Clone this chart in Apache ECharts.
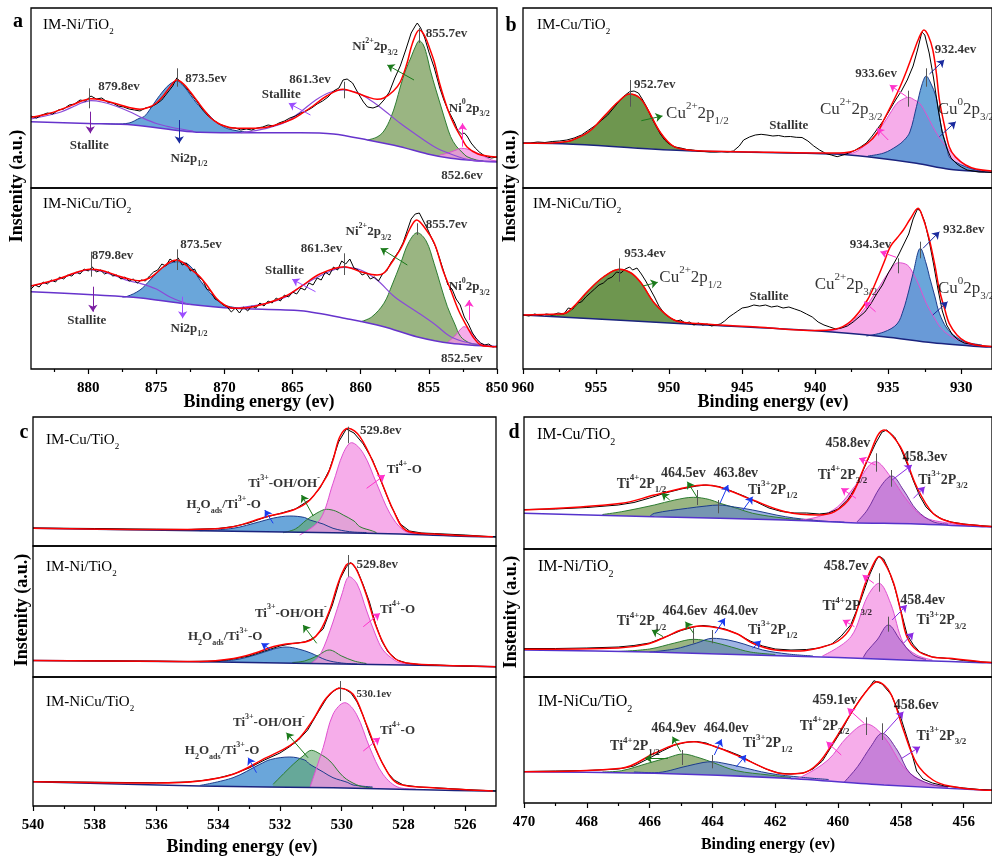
<!DOCTYPE html>
<html><head><meta charset="utf-8">
<script src="https://cdn.jsdelivr.net/npm/echarts@6/dist/echarts.min.js"></script>
<style>html,body{margin:0;padding:0;background:#fff}#c{width:992px;height:856px}</style>
</head><body><div id="c"></div><script>
// ===================== DATA =====================
// tick labels
const ticksA = [850,855,860,865,870,875,880], minorA = [852.5,857.5,862.5,867.5,872.5,877.5,882.5];
const ticksB = [930,935,940,945,950,955,960], minorB = [932.5,937.5,942.5,947.5,952.5,957.5];
const ticksC = [526,528,530,532,534,536,538,540], minorC = [527,529,531,533,535,537,539];
const ticksD = [456,458,460,462,464,466,468,470], minorD = [457,459,461,463,465,467,469];

// ---- (a) Ni 2p, IM-Ni/TiO2 ----
const a1_bg = [[884.2,66.3],[880,64.5],[876.7,63],[873.2,57.3],[871.8,55.7],[868,55.2],[864.4,55.3],[862,54],[859.5,48],[857.1,41.3],[855.1,34],[853.4,29.7],[851.5,27.3],[850,26.3]];
const a1_sat1 = [[884.2,69],[883,72.5],[882,76],[881,82],[880.5,85],[879.8,87.3],[879,86],[878,82],[877,76.5],[876,70],[875,64.5],[874,61],[873,58.5],[872.3,57]];
const a1_ni2p12 = [[879.2,64.5],[878,64],[877,65],[876.2,70],[875.9,71.3],[875.5,78],[875,88],[874.5,97],[874,104],[873.5,107],[873,102],[872.5,93],[872,84],[871.8,81.3],[871.2,74],[870.8,68],[870.3,63],[869.8,59.5],[869,57],[868,55.5]];
const a1_sat2 = [[868.8,55.3],[866.9,59.7],[865.5,66],[864.4,76.3],[863.3,88],[862.3,95.5],[861.3,98],[860.3,95.5],[859.5,89.7],[858.5,80],[857.1,64.7],[856,54],[854.6,41.3],[853.4,34],[852.2,28.7],[851,26.5],[850,26]];
const a1_ni2p32 = [[859.5,48],[858.8,51],[858.3,57],[857.8,70],[857.4,86],[857.1,101],[856.7,118],[856.3,131],[856,141],[855.7,147.3],[855.4,143],[855.1,130],[854.9,118],[854.5,99],[854.1,81],[853.7,63],[853.4,51.3],[853,42],[852.5,35],[852.2,31.3],[851.5,28],[851,27]];
const a1_ni0 = [[854.2,33],[853.6,35],[853,38],[852.6,39.7],[852.2,39],[851.6,36],[851,32],[850.4,28],[850,27]];
const a1_fit = [[884.2,70.7],[883,74],[882,78.5],[881,84],[880.5,87],[879.8,89.3],[879,88],[878,84.5],[877,80.5],[876.2,78.7],[875.5,81],[875,85],[874.5,92],[874,101],[873.5,108],[873,104],[872.5,96],[872,87],[871.5,78],[871,70],[870.5,65],[870,62],[869.3,60],[868,59.7],[867,60.5],[866,64],[865,69],[864.4,74],[863.5,82],[862.5,92],[861.3,98.7],[860.5,96],[859.5,91],[858.8,88.7],[858.3,90],[857.6,97],[857.1,106],[856.6,125],[856.2,145],[855.7,158],[855.3,152],[854.9,138],[854.6,126],[854.2,104],[853.6,78],[853.1,62],[852.6,50],[852.2,41],[851.4,34],[850.5,31.5],[850,31]];
const a1_raw = [[884.2,72],[883.8,70],[883.4,73],[883,75],[882.6,74],[882.2,78],[881.8,79],[881.4,83],[881,84],[880.6,88],[880.2,87],[879.8,92],[879.4,89],[879,90],[878.6,86],[878.2,85],[877.8,82],[877.4,81],[877,79],[876.6,78],[876.2,77],[875.8,80],[875.4,81],[875,84],[874.6,88],[874.2,95],[873.8,102],[873.5,110],[873.2,106],[872.8,100],[872.4,93],[872,86],[871.6,78],[871.2,72],[870.8,68],[870.4,64],[870,62],[869.6,60],[869.2,60],[868.8,58],[868.4,59],[868,58],[867.6,60],[867.2,61],[866.8,63],[866.4,62],[866,65],[865.6,67],[865.2,70],[864.8,72],[864.4,75],[864,77],[863.6,80],[863.2,84],[862.8,87],[862.4,91],[862,97],[861.6,100],[861.3,108],[861,109],[860.6,105],[860.2,95],[859.8,86],[859.5,81],[859.1,80],[858.7,82],[858.3,88],[857.9,96],[857.5,110],[857.1,122],[856.7,138],[856.3,155],[856,162],[855.85,165],[855.6,160],[855.3,150],[855,136],[854.6,120],[854.2,100],[853.9,88],[853.6,78],[853.4,73],[853.1,65],[852.9,58],[852.6,54],[852.4,55],[852.2,52],[851.9,45],[851.6,40],[851.3,36],[851,33],[850.7,31],[850.4,30],[850,31]];

// ---- (a) Ni 2p, IM-NiCu/TiO2 ----
const a2_bg = [[884.2,77.3],[876.7,71.7],[872.8,65],[869.3,60.7],[864.4,58.3],[860.8,49.7],[858.3,42.3],[855.9,32.3],[853.4,25.7],[850,22.3]];
const a2_sat1 = [[884.2,83],[883,86.5],[882,90.5],[881,95.5],[879.9,99],[879,97.5],[878,93],[877,88],[876.2,85.7],[875,80],[874,72],[873,66.5],[872.5,64.5]];
const a2_ni2p12 = [[877.5,72],[877.17,72.5],[876.2,79],[875.45,89],[874.96,96],[874.5,102],[873.5,107.3],[872.6,104],[871.8,89],[871.3,80],[870.8,72.3],[870.3,66],[869.8,63],[869,61]];
const a2_sat2 = [[869.3,60.7],[866.9,65.7],[865.5,72],[864.4,82.3],[863,93],[861.2,101.7],[860,99],[858.8,89],[857.5,72],[855.9,57.3],[854.5,44],[853.4,32.3],[852,26],[850,22.5]];
const a2_ni2p32 = [[860,47.3],[859.2,52],[858.3,65.7],[857.7,84],[857.07,105.7],[856.5,126],[855.85,136.3],[855.2,128],[854.62,105.7],[854.1,82],[853.64,62.3],[853.1,45],[852.66,32.3],[852,26],[851.4,24.5]];
const a2_ni0 = [[853.6,27],[853.1,33],[852.66,40],[852.42,42.3],[852.1,40],[851.6,32],[851.2,26],[850.6,23]];
const a2_fit = [[884.2,83],[883,87],[882,91],[881,96],[879.9,99.7],[879,98.5],[878,94],[877,90],[876.2,88.3],[875.5,91],[875,96],[874.5,102],[874,107],[873.5,109],[873,106],[872.5,100],[871.8,92.3],[871.2,82],[870.6,70.7],[870,64],[869.3,60.7],[868.5,61],[866.9,65.7],[865.5,73],[864.4,82.3],[863,95],[861.2,102.3],[860,97.3],[858.8,94],[858.3,96],[857.6,109],[857,122],[856.4,140],[855.9,149],[855.4,143],[854.6,125.7],[854,100],[853.4,79],[852.8,58],[852.2,42.3],[851.7,31],[851.2,24],[850.5,22.5],[850,22.3]];
const a2_raw = [[884.2,80],[883.9,84],[883.6,82],[883.3,87],[883,85],[882.7,89],[882.4,87],[882.1,92],[881.8,90],[881.5,94],[881.2,93],[880.9,97],[880.6,95],[880.3,100],[880,98],[879.7,102],[879.4,97],[879.1,99],[878.8,95],[878.5,97],[878.2,93],[877.9,94],[877.6,90],[877.3,92],[877,88],[876.7,90],[876.4,86],[876.1,89],[875.8,88],[875.5,93],[875.2,97],[874.9,99],[874.6,105],[874.3,103],[874,110],[873.7,107],[873.4,111],[873.1,104],[872.8,106],[872.5,98],[872.2,100],[871.9,92],[871.6,89],[871.3,80],[871,78],[870.7,70],[870.4,68],[870.1,64],[869.8,62],[869.5,57],[869.2,61],[868.9,56],[868.6,62],[868.3,58],[868,63],[867.7,61],[867.4,66],[867.1,63],[866.8,68],[866.5,66],[866.2,71],[865.9,68],[865.6,74],[865.3,72],[865,77],[864.7,75],[864.4,81],[864.1,79],[863.8,86],[863.5,84],[863.2,91],[862.9,89],[862.6,97],[862.3,94],[862,102],[861.7,99],[861.4,108],[861.1,105],[860.8,110],[860.5,101],[860.2,99],[859.9,94],[859.6,96],[859.3,90],[859,92],[858.7,88],[858.4,95],[858.1,98],[857.8,106],[857.5,112],[857.2,118],[856.9,126],[856.6,138],[856.3,150],[856,155],[855.7,156],[855.4,148],[855.1,140],[854.8,131],[854.5,122],[854.2,110],[853.9,97],[853.6,84],[853.3,80],[853,70],[852.7,64],[852.4,52],[852.1,45],[851.8,36],[851.5,30],[851.2,26],[850.9,24],[850.6,25],[850.3,22],[850,23]];

// ---- (b) Cu 2p, IM-Cu/TiO2 ----
const b1_bg = [[960,44.7],[959.08,44.7],[948.76,37.3],[938.67,34],[936.43,31.3],[933.07,24.7],[930.83,18.7],[928.59,16.3],[927.9,16]];
const b1_cu2p12 = [[959,44.5],[957.5,45],[956.6,48],[955.49,56.3],[954.37,73],[953.5,86],[952.7,94],[952,90],[951.45,78],[950.56,54.7],[949.66,41.3],[948.31,37.5]];
const b1_cu2p32 = [[938.67,34],[937.55,34.7],[936.43,44.7],[935.8,55],[935.31,64.7],[934.86,75],[934.41,84.7],[933.97,89],[933.61,90.7],[933.2,88],[932.85,84.7],[932.4,74],[931.95,61.3],[931.4,48],[930.83,38],[930.2,29],[929.71,23],[929,18],[928.4,16.5]];
const b1_cu0 = [[936.4,32],[935.3,35],[934.4,42],[933.9,48],[933.52,56],[933.07,81.3],[932.7,103],[932.4,112],[932.1,105],[931.73,91.3],[931.5,72],[931.28,54.7],[931,42],[930.83,31.3],[930.4,26],[929.71,21.3],[929,18],[928.4,16.5]];
const b1_fit = [[960,44.7],[958,45],[957,46.5],[956.6,48],[955.49,56.3],[954.37,73],[953.5,86],[952.7,94],[952,90],[951.45,78],[950.56,54.7],[949.66,41.3],[948.31,37.5],[944,36],[940,35],[938.67,35],[937.55,36.3],[936.4,45],[935.76,55],[935.31,68],[934.75,84],[934.19,101.3],[933.75,117],[933.3,134.7],[932.9,150],[932.56,158],[932.25,152],[931.95,138],[931.7,114],[931.5,88],[931.15,62],[930.83,41.3],[930.4,31],[929.71,23],[929,19],[927.9,17]];
const b1_raw = [[960,45],[959.5,45],[959,46],[958.5,45.5],[958,46.5],[957.5,47],[957,48],[956.5,50],[956,53],[955.5,58],[955,63],[954.6,68],[954.2,73],[953.8,80],[953.4,87],[953,93],[952.7,96.3],[952.4,97],[952.1,95],[951.8,88],[951.5,80],[951.2,70],[950.9,62],[950.6,54],[950.3,48],[950,44],[949.6,41],[949.2,40],[948.8,38.5],[948.4,38],[948,37],[947.6,36.5],[947.2,36],[946.8,36],[946.4,36.5],[946,36],[945.6,37],[945.2,42],[944.9,48],[944.5,51],[944.1,53],[943.7,53.7],[943.3,53],[942.9,52],[942.5,52.5],[942.1,51.3],[941.7,51.5],[941.3,50.7],[940.9,50.5],[940.5,47],[940.1,42],[939.7,38],[939.3,34.7],[938.9,33],[938.5,31.3],[938.1,33],[937.7,35],[937.3,37.5],[936.9,41],[936.5,45],[936.1,52],[935.7,60],[935.3,68],[934.9,78],[934.5,88],[934.1,97],[933.7,108],[933.3,122],[933,138],[932.7,156],[932.5,153],[932.2,135],[931.9,110],[931.6,80],[931.3,55],[931,40],[930.7,30],[930.3,24],[930,21],[929.6,18],[929.2,17],[928.8,16],[928.4,16],[927.9,15.5]];

// ---- (b) Cu 2p, IM-NiCu/TiO2 ----
const b2_bg = [[960,54],[948.76,45],[939.79,38],[935.31,32.3],[931.95,26.3],[928.59,22.3],[927.9,22]];
const b2_cu2p12 = [[958.5,53],[957.06,55.7],[956.3,64],[955.49,79],[954.5,92],[953.4,99.7],[952.6,96],[951.9,85.7],[951,65.7],[950.3,55],[949.66,49],[948.8,46],[948,45]];
const b2_cu2p32 = [[939.5,38],[938.67,39],[937.8,44],[936.88,55.7],[935.76,79],[935,96],[934.3,106.3],[933.7,104],[933.3,95.7],[932.85,82],[932.4,65.7],[931.8,50],[931.28,39],[930.5,31],[929.71,25.7],[929,23],[928.2,22]];
const b2_cu0 = [[936.5,33],[935.3,37],[934.4,45],[933.97,59],[933.6,78],[933.3,95.7],[932.8,120.7],[932.4,105],[932.18,92.3],[931.8,72],[931.5,55.7],[931,41],[930.38,32.3],[929.7,27],[928.59,24]];
const b2_fit = [[960,54],[957.5,55],[957.06,56],[955.49,79],[954.5,92],[953.4,99.7],[952.6,96],[951.9,85.7],[951,65.7],[949.66,49],[948,45.5],[944,42],[940,38.5],[938.67,39.7],[937.55,48],[936.43,69],[935.76,90],[935.31,106],[934.86,122.3],[934.4,131],[933.97,139],[933.5,150],[932.96,160.7],[932.6,150],[932.18,129],[931.8,103],[931.5,79],[931.1,58],[930.83,45.7],[930.3,34],[929.71,27.3],[929,24],[927.9,22.5]];
const b2_raw = [[960,54],[959.6,53],[959.2,55],[958.8,53.5],[958.4,55],[958,54],[957.6,56],[957.2,55],[956.9,61],[956.6,60],[956.3,66],[956,67],[955.7,72],[955.4,76],[955.1,80],[954.8,84],[954.5,86],[954.2,90],[953.9,92],[953.6,97],[953.3,96],[953,100],[952.7,102],[952.5,99],[952.2,101],[951.9,95],[951.6,88],[951.3,80],[951,72],[950.7,63],[950.4,57],[950.1,53],[949.8,50],[949.5,48],[949.2,49],[948.9,46],[948.6,47],[948.3,44],[948,46],[947.7,44],[947.4,45],[947.1,43],[946.8,44],[946.5,45],[946.2,48],[945.9,52],[945.6,55],[945.3,58],[945,61],[944.6,62],[944.2,64],[943.8,63],[943.4,64],[943,62],[942.6,63],[942.2,61],[941.8,62],[941.4,60],[941,58],[940.6,55],[940.2,52],[939.8,47],[939.4,44],[939,42],[938.6,40],[938.2,41],[937.8,43],[937.4,47],[937,52],[936.6,57],[936.2,65],[935.8,75],[935.4,84],[935,96],[934.6,106],[934.3,114],[934,123],[933.6,135],[933.3,150],[933,160],[932.8,158],[932.5,147],[932.2,128],[931.9,105],[931.6,80],[931.3,58],[931,44],[930.6,34],[930.2,29],[929.8,26],[929.4,25],[929,24],[928.5,23],[927.9,22.5]];

// ---- (c) O 1s, IM-Cu/TiO2 ----
const c1_bg = [[540,17.7],[534.6,15.3],[530.28,13.3],[528.12,12],[525.1,9.3],[525,9.3]];
const c1_h2o = [[534.6,15.3],[533.52,17.7],[532.65,24.3],[532.2,28],[531.68,30],[531.2,28.5],[531.03,26],[530.6,22],[530.28,17.7],[529.74,14.3],[529.2,13.5]];
const c1_oh = [[531.9,13.3],[531.5,17],[531.14,26],[530.8,33],[530.49,36.7],[530.2,35],[529.95,31],[529.6,25],[529.41,19.3],[529,15],[528.87,13.3]];
const c1_ti4 = [[531.36,11],[530.71,26],[530.28,62.7],[529.95,92.7],[529.68,103.3],[529.3,92.7],[528.87,62.7],[528.44,32.7],[528.01,16],[527.58,12],[527.2,11.5]];
const c1_fit = [[540,17.7],[536,16.5],[534.6,16.8],[533.52,19.3],[532.44,29.3],[531.57,36],[531.03,46],[530.49,69.3],[530.28,86],[530.06,109.3],[529.79,117.7],[529.41,109.3],[528.87,76],[528.33,36],[527.9,15.3],[527.04,12],[525.1,9.3]];
const c1_raw = [[540,18],[538,17.5],[536,16.8],[535,16.5],[534,17.5],[533.5,19.5],[533,23],[532.5,28.5],[532,32.5],[531.5,37],[531,47],[530.7,58],[530.4,76],[530.1,104],[529.85,117],[529.6,113],[529.3,102],[529,86],[528.7,63],[528.4,40],[528.1,22],[527.8,15],[527.4,13],[527,12.5],[526,11],[525,9]];

// ---- (c) O 1s, IM-Ni/TiO2 ----
const c2_bg = [[540,16.5],[534,15],[530,13],[527,11.5],[525,10.3]];
const c2_h2o = [[534.6,15.2],[533.5,17],[532.8,22],[532.2,28],[531.8,30],[531.4,28],[531,24],[530.5,17],[530,14],[529.5,13]];
const c2_oh = [[531.6,14.5],[531.2,16],[530.8,21],[530.4,27],[530,21],[529.6,16],[529.2,13.5]];
const c2_ti4 = [[531,13.5],[530.7,22],[530.28,55],[530,82],[529.75,100.3],[529.5,93],[529.2,67],[528.9,42],[528.66,27],[528.3,17],[528.12,14.3],[527.6,12]];
const c2_fit = [[540,16.5],[536,15.8],[534.6,15.5],[533.5,18.5],[532.8,24],[532.2,30.5],[531.8,33],[531.4,34],[531,37],[530.7,46],[530.4,66],[530.1,95],[529.85,112],[529.7,113.7],[529.5,106],[529.2,82],[528.9,52],[528.6,31],[528.3,19],[527.9,14],[527,12],[525,10.3]];
const c2_raw = [[540,16.5],[538,16.2],[536,15.8],[535,15.5],[534,16],[533.5,18],[533,21],[532.5,26],[532,31],[531.6,33.5],[531.2,35],[530.9,39],[530.6,48],[530.3,72],[530.05,98],[529.85,110],[529.7,114.5],[529.5,107],[529.3,92],[529.1,75],[528.9,53],[528.7,36],[528.5,25],[528.2,17],[527.9,14],[527.5,12.5],[527,12],[526,11],[525,10.3]];

// ---- (c) O 1s, IM-NiCu/TiO2 ----
const c3_bg = [[540,24.3],[534.6,20],[530.28,18.3],[528.12,16.7],[525.2,15],[525,15]];
const c3_h2o = [[534.6,20.5],[533.52,28.3],[532.65,41.7],[532.3,46.5],[531.68,49],[531.2,46],[531.03,41.7],[530.6,34],[530.28,28.3],[529.8,23.5],[529.63,21],[529,19]];
const c3_oh = [[532.22,21.7],[531.57,41.7],[531.25,50],[530.98,55.7],[530.7,52],[530.38,45],[530.06,33],[529.84,26.7],[529.41,20],[529,18]];
const c3_ti4 = [[531.03,18.3],[530.6,58.3],[530.28,91.7],[529.9,103.3],[529.52,91.7],[529.09,58.3],[528.66,31.7],[528.12,18.3],[527.6,17]];
const c3_fit = [[540,24.3],[536,23],[534.6,25],[533.52,31.7],[532.44,48.3],[531.79,58.3],[531.36,68.3],[530.92,86.7],[530.49,108.3],[530.06,117.7],[529.63,111.7],[529.2,81.7],[528.66,41.7],[528.12,21.7],[527.04,18.3],[525.1,15]];
const c3_raw = [[540,24.5],[538,23.8],[536,23.2],[535,24],[534.5,25.5],[534,28],[533.5,32],[533,38],[532.5,46],[532,53],[531.7,59],[531.4,66],[531.1,76],[530.8,92],[530.5,107],[530.3,114],[530.1,118],[529.9,117],[529.7,113],[529.5,104],[529.3,90],[529.1,72],[528.9,57],[528.7,44],[528.5,33],[528.3,26],[528,21],[527.5,19],[527,18.3],[526,16.5],[525,15]];

// ---- (d) Ti 2p, IM-Cu/TiO2 ----
const d1_bg = [[470,35.7],[465.85,32.3],[461.68,29],[459.59,26.3],[457.5,25],[455.41,22.3],[455.1,22]];
const d1_ti4_12 = [[467.5,34.5],[466.89,37.3],[465.85,44],[465.2,49],[464.6,51.7],[464.1,49.5],[463.76,45.7],[463.2,40.5],[462.72,35.7],[461.68,30.7],[460.8,28.8]];
const d1_ti3_12 = [[466,32.3],[465.85,35.7],[464.8,40.7],[464.2,43],[463.8,44],[463.3,42],[462.72,39],[461.68,32.3],[460.63,28.3],[459.8,26.8]];
const d1_ti4_32 = [[461.2,29],[460.63,32.3],[460.01,42.3],[459.48,62.3],[458.8,87.3],[458.33,72.3],[457.81,49],[457.29,32.3],[456.46,25.7],[455.8,23]];
const d1_ti3_32 = [[459.4,27],[459.07,39],[458.65,62.3],[458.29,73],[457.92,59],[457.5,39],[456.98,27.3],[456.5,25]];
const d1_fit = [[470,39],[466.89,45.7],[465.85,54],[464.8,61.7],[464.28,64],[463.76,61.7],[462.72,49],[461.68,37.3],[460.63,34],[460.11,37.3],[459.59,52.3],[459.07,89],[458.54,119],[458.02,102.3],[457.5,62.3],[456.98,35.7],[456.46,27.3],[455.41,23],[455.1,22.5]];
const d1_raw = [[470,39.5],[469,40],[468,41.5],[467,44],[466.5,46.5],[466,51],[465.5,56],[465,60],[464.5,63],[464.2,64],[463.8,62.5],[463.4,58],[463,53],[462.6,47],[462.2,41],[461.8,37.5],[461.4,36],[461,36],[460.6,35],[460.3,36],[460,40],[459.7,49],[459.4,64],[459.1,86],[458.8,106],[458.6,117],[458.45,119],[458.2,112],[458,100],[457.8,85],[457.6,68],[457.4,53],[457.2,42],[457,36],[456.7,30],[456.4,27],[456,25],[455.5,23.5],[455.1,22.5]];

// ---- (d) Ti 2p, IM-Ni/TiO2 ----
const d2_bg = [[470,27],[466,25],[462.72,22],[460,19.5],[457.5,16.5],[455.41,14.3],[455.1,14]];
const d2_ti4_12 = [[467,25.5],[466,28],[465.2,34],[464.6,37.7],[464,35],[463.4,30],[462.8,25],[462,22.5]];
const d2_ti3_12 = [[466,25],[465.2,28],[464.5,34],[464,38.7],[463.5,37],[463,33],[462.4,27],[461.6,23],[460.8,21]];
const d2_ti4_32 = [[460.5,21],[459.59,40.3],[459.07,80.3],[458.7,93.7],[458.33,73.7],[457.92,33.7],[457.5,22],[457,17]];
const d2_ti3_32 = [[459.2,19.5],[459.07,26],[458.76,37],[458.4,52],[458.02,37],[457.6,22],[457.2,17.5]];
const d2_fit = [[470,27.7],[467,29],[466.06,33],[465.5,40],[465,47],[464.4,51],[463.8,49],[463.2,43],[462.72,33.7],[462,27],[461.2,26],[460.5,30],[460,36],[459.59,50.3],[459.17,90.3],[458.95,108],[458.7,120.3],[458.45,110],[458.23,93.7],[458,65],[457.81,40.3],[457.5,27],[457,20],[456.46,18.7],[455.41,15],[455.1,14.5]];
const d2_raw = [[470,28.5],[469,28.5],[468,29],[467,30],[466.5,31.5],[466,34],[465.5,40],[465,46.5],[464.6,50],[464.3,51.5],[464,50.5],[463.6,48],[463.2,43],[462.8,36],[462.4,31],[462,28],[461.5,27],[461,27.5],[460.6,29],[460.2,33],[459.9,41],[459.6,52],[459.3,75],[459,102],[458.8,116],[458.7,121],[458.55,118],[458.4,108],[458.2,90],[458,66],[457.8,42],[457.6,32],[457.4,25],[457,20],[456.5,18.5],[456,16.5],[455.5,15.2],[455.1,14.5]];

// ---- (d) Ti 2p, IM-NiCu/TiO2 ----
const d3_bg = [[470,31.3],[465.85,29.7],[461.68,24.7],[458.54,18],[455.41,13],[455.1,12.8]];
const d3_ti4_12 = [[467.5,31],[466.89,32.3],[466.06,39.7],[465.4,45.5],[464.95,49],[464.4,45],[463.97,40.3],[463.24,32.3],[462.2,28],[461.5,25.5]];
const d3_ti3_12 = [[466.5,31],[465.85,30.3],[464.8,37],[464.3,40.5],[464,41.3],[463.6,39.5],[463.13,36.3],[462.2,29.7],[461.16,25.7],[460.3,23.5]];
const d3_ti4_32 = [[461.5,24],[461.16,26.3],[460.32,43],[459.7,66.3],[459.1,79],[458.54,66.3],[457.92,36.3],[457.29,21.3],[456.5,16]];
const d3_ti3_32 = [[459.8,21],[459.38,36.3],[458.96,56.3],[458.6,69.7],[458.12,53],[457.71,29.7],[457.08,19],[456.5,16]];
const d3_fit = [[470,31.3],[466.89,34.7],[465.85,49.7],[465.22,58],[464.6,61.3],[463.97,57],[463.13,46.3],[462.2,33],[461.68,29],[461.16,29.7],[460.63,39.7],[460.11,63],[459.59,89.7],[459.07,113],[458.76,121.3],[458.33,109.7],[457.92,73],[457.5,39.7],[456.98,23],[456.46,17],[455.41,13],[455.1,12.8]];
const d3_raw = [[470,31.5],[469,32],[468,32.5],[467,34],[466.5,37],[466,45],[465.6,52],[465.2,58],[464.8,61],[464.5,61.5],[464.2,60],[463.9,56],[463.5,52],[463.1,47],[462.7,40],[462.3,34],[461.9,30],[461.5,29],[461.1,30],[460.8,34],[460.5,42],[460.2,57],[459.9,72],[459.6,89],[459.3,104],[459,116],[458.86,122.3],[458.6,119],[458.3,108],[458,85],[457.7,55],[457.5,32],[457.3,24],[457,20],[456.6,17],[456,15],[455.5,13.5],[455.1,13]];

// ===================== STYLE / LAYOUT =====================
const FONT = '"Liberation Serif","Times New Roman",serif';
const RED = '#ff0000';
const C = {
  blueF:'rgba(80,150,212,0.85)', blueL:'#1c3c8c',
  greenF:'rgba(125,160,95,0.78)', greenL:'#2e7d32',
  dgreenF:'rgba(90,135,55,0.88)', dgreenL:'#3a6b1f',
  pinkF:'rgba(244,150,228,0.78)', pinkL:'#e050d0',
  tealF:'rgba(100,170,110,0.6)',
  dblueF:'rgba(95,130,210,0.6)',
  purpF:'rgba(170,100,205,0.6)', purpL:'#7030a0',
  sat:'#8a4ad8'
};
const ARW = {pur:'#7b1fa2', navy:'#1a2a9e', vio:'#9c4dff', grn:'#1b7a1b', mag:'#ff33cc', blu:'#1a3aee', vio2:'#8a2be2'};

const AXES = {
  a:{min:850, max:884.2, major:ticksA, minor:minorA},
  b:{min:927.9, max:960, major:ticksB, minor:minorB},
  c:{min:525, max:540, major:ticksC, minor:minorC},
  d:{min:455.1, max:470, major:ticksD, minor:minorD}
};

const SUB = [
 {ax:'a', left:31, top:8, width:466, height:180, bottom:false, bgLine:'#6633cc', bg:a1_bg, raw:a1_raw, fit:a1_fit,
  comps:[[a1_ni2p12,C.blueF,C.blueL],[a1_ni2p32,C.greenF,C.greenL],[a1_ni0,C.pinkF,C.pinkL]], sats:[a1_sat1,a1_sat2],
  texts:[[879.27,101,'879.8ev','left',13,true],[879.93,42.3,'Stallite','center',13,true],[872.88,109.7,'873.5ev','left',13,true],[872.6,29.7,'Ni2p_{1/2}','center',13,true],[862.2,108,'861.3ev','right',13,true],[865.84,93,'Stallite','center',13,true],[860.62,141.3,'Ni^{2+}2p_{3/2}','left',13,true],[855.23,154.7,'855.7ev','left',13,true],[853.54,79.7,'Ni^{0}2p_{3/2}','left',13,true],[851.04,12.3,'852.6ev','right',13,true]],
  arrows:[[[879.85,76.3],[879.85,54.7],ARW.pur],[[873.32,68],[873.32,44.7],ARW.navy],[[863.69,73],[865.28,84.7],ARW.vio],[[856.09,108],[858.05,123],ARW.grn],[[852.53,41.3],[852.53,64.7],ARW.mag]],
  pticks:[[879.9,99.7,79.7],[873.5,119.7,101.3],[861.24,106.3,89.7],[855.7,160,145]]},
 {ax:'a', left:31, top:188, width:466, height:181, bottom:true, bgLine:'#6633cc', bg:a2_bg, raw:a2_raw, fit:a2_fit,
  comps:[[a2_ni2p12,C.blueF,C.blueL],[a2_ni2p32,C.greenF,C.greenL],[a2_ni0,C.pinkF,C.pinkL]], sats:[a2_sat1,a2_sat2],
  texts:[[879.74,113,'879.8ev','left',13,true],[880.1,48.3,'Stallite','center',13,true],[873.24,124,'873.5ev','left',13,true],[872.6,40.7,'Ni2p_{1/2}','center',13,true],[861.36,120.7,'861.3ev','right',13,true],[865.6,98.3,'Stallite','center',13,true],[861.11,137.3,'Ni^{2+}2p_{3/2}','left',13,true],[855.23,144,'855.7ev','left',13,true],[853.54,82.3,'Ni^{0}2p_{3/2}','left',13,true],[851.06,10,'852.5ev','right',13,true]],
  arrows:[[[879.66,82.3],[879.66,57.3],ARW.pur],[[873.07,72.3],[873.07,50.7],ARW.vio],[[863.32,77.3],[865.03,89.7],ARW.vio],[[856.58,104],[858.54,120.7],ARW.grn],[[852.05,49],[852.05,69],ARW.mag]],
  pticks:[[879.8,117.3,92.3],[873.5,119.7,99],[861.24,115.7,94],[855.85,145.7,134]]},
 {ax:'b', left:523, top:8, width:477, height:180, bottom:false, bgLine:'#1a237e', bg:b1_bg, raw:b1_raw, fit:b1_fit,
  comps:[[b1_cu2p12,C.dgreenF,C.dgreenL],[b1_cu2p32,C.pinkF,C.pinkL],[b1_cu0,C.blueF,C.blueL]], sats:[],
  texts:[[952.4,103.7,'952.7ev','left',13,true],[950.21,74.7,'Cu^{2+}2p_{1/2}','left',17,false],[941.81,62,'Stallite','center',13,true],[934.41,114,'933.6ev','right',13,true],[939.68,78,'Cu^{2+}2p_{3/2}','left',17,false],[931.82,138.7,'932.4ev','left',13,true],[931.62,78,'Cu^{0}2p_{3/2}','left',17,false]],
  arrows:[[[951.9,67.3],[950.45,72],ARW.grn],[[933.74,91.3],[934.9,103],ARW.mag],[[935.0,48],[935.78,59.7],ARW.mag],[[932.18,114],[931.17,128],ARW.navy],[[931.5,51.3],[930.38,66.3],ARW.navy]],
  pticks:[[952.68,108,81.3],[933.6,97.3,81.3],[932.4,119.7,101.3]]},
 {ax:'b', left:523, top:188, width:477, height:181, bottom:true, bgLine:'#1a237e', bg:b2_bg, raw:b2_raw, fit:b2_fit,
  comps:[[b2_cu2p12,C.dgreenF,C.dgreenL],[b2_cu2p32,C.pinkF,C.pinkL],[b2_cu0,C.blueF,C.blueL]], sats:[],
  texts:[[953.07,115.7,'953.4ev','left',13,true],[950.67,91.7,'Cu^{2+}2p_{1/2}','left',17,false],[943.16,72.3,'Stallite','center',13,true],[934.8,124.7,'934.3ev','right',13,true],[940.04,84,'Cu^{2+}2p_{3/2}','left',17,false],[931.26,139,'932.8ev','left',13,true],[931.6,80.7,'Cu^{0}2p_{3/2}','left',17,false]],
  arrows:[[[951.79,83],[950.78,86.7],ARW.grn],[[934.46,111.7],[935.54,117.3],ARW.mag],[[935.87,57.3],[936.65,67.3],ARW.mag],[[932.62,120.7],[931.5,137.3],ARW.navy],[[931.95,54],[930.94,67.3],ARW.navy]],
  pticks:[[953.4,110.7,87.3],[934.3,110.7,95.7],[932.8,127.3,110.7]]},
 {ax:'c', left:33, top:417, width:463, height:129, bottom:false, bgLine:'#1a237e', bg:c1_bg, raw:c1_raw, fit:c1_fit,
  comps:[[c1_h2o,C.blueF,C.blueL],[c1_oh,C.tealF,C.greenL],[c1_ti4,C.pinkF,C.pinkL]], sats:[],
  texts:[[529.41,115.3,'529.8ev','left',13,true],[528.54,76,'Ti^{4+}-O','left',13,true],[533.03,62,'Ti^{3+}-OH/OH^{-}','left',13,true],[535.03,41,'H_{2}O_{ads}/Ti^{3+}-O','left',13,true]],
  arrows:[[[529.19,57.7],[528.6,71],ARW.mag],[[530.92,30],[531.3,51],ARW.grn],[[532.22,22.7],[532.49,36],ARW.blu]],
  pticks:[[529.79,119.3,102.7]]},
 {ax:'c', left:33, top:546, width:463, height:131, bottom:false, bgLine:'#1a237e', bg:c2_bg, raw:c2_raw, fit:c2_fit,
  comps:[[c2_h2o,C.blueF,C.blueL],[c2_oh,C.tealF,C.greenL],[c2_ti4,C.pinkF,C.pinkL]], sats:[],
  texts:[[529.52,112,'529.8ev','left',13,true],[528.76,67,'Ti^{4+}-O','left',13,true],[532.81,63.7,'Ti^{3+}-OH/OH^{-}','left',13,true],[534.98,40.3,'H_{2}O_{ads}/Ti^{3+}-O','left',13,true]],
  arrows:[[[529.3,50.3],[528.76,63.7],ARW.mag],[[530.81,33.7],[531.25,52],ARW.grn],[[532.28,27],[532.6,33.7],ARW.blu]],
  pticks:[[529.8,122,100.3]]},
 {ax:'c', left:33, top:677, width:463, height:129, bottom:true, bgLine:'#1a237e', bg:c3_bg, raw:c3_raw, fit:c3_fit,
  comps:[[c3_h2o,C.blueF,C.blueL],[c3_oh,C.tealF,C.greenL],[c3_ti4,C.pinkF,C.pinkL]], sats:[],
  texts:[[529.52,112.3,'530.1ev','left',11,true],[528.76,75,'Ti^{4+}-O','left',13,true],[533.52,83.3,'Ti^{3+}-OH/OH^{-}','left',13,true],[535.08,55,'H_{2}O_{ads}/Ti^{3+}-O','left',13,true]],
  arrows:[[[529.3,55],[528.76,68.3],ARW.mag],[[531.09,48.3],[531.79,73.3],ARW.grn],[[532.76,33.3],[533.03,48.3],ARW.blu]],
  pticks:[[530.06,125,105]]},
 {ax:'d', left:524, top:417, width:476, height:132, bottom:false, bgLine:'#5533cc', bg:d1_bg, raw:d1_raw, fit:d1_fit,
  comps:[[d1_ti4_12,C.greenF,C.greenL],[d1_ti3_12,C.dblueF,C.blueL],[d1_ti4_32,C.pinkF,C.pinkL],[d1_ti3_32,C.purpF,C.purpL]], sats:[],
  texts:[[467.05,65,'Ti^{4+}2P_{1/2}','left',14,true],[465.64,75.7,'464.5ev','left',14,true],[463.97,75.7,'463.8ev','left',14,true],[462.87,59,'Ti^{3+}2P_{1/2}','left',14,true],[458.98,105.7,'458.8ev','right',14,true],[460.65,74,'Ti^{4+}2P_{3/2}','left',14,true],[457.95,91.7,'458.3ev','left',14,true],[457.45,69,'Ti^{3+}2P_{3/2}','left',14,true]],
  arrows:[[[465.36,49],[465.62,55.7],ARW.grn],[[464.49,51.7],[464.8,67.3],ARW.grn],[[463.76,45.7],[463.5,64],ARW.blu],[[463.03,39],[462.72,52.3],ARW.blu],[[458.81,84],[459.33,90.7],ARW.mag],[[459.43,50.7],[459.9,60.7],ARW.mag],[[458.28,69],[457.65,84],ARW.vio2],[[457.6,50.7],[457.24,62.3],ARW.vio2]],
  pticks:[[464.5,59,44],[463.8,49,35.7],[458.8,95.7,77.3],[458.3,79,62.3]]},
 {ax:'d', left:524, top:549, width:476, height:128, bottom:false, bgLine:'#5533cc', bg:d2_bg, raw:d2_raw, fit:d2_fit,
  comps:[[d2_ti4_12,C.greenF,C.greenL],[d2_ti3_12,C.dblueF,C.blueL],[d2_ti4_32,C.pinkF,C.pinkL],[d2_ti3_32,C.purpF,C.purpL]], sats:[],
  texts:[[467.05,55.3,'Ti^{4+}2P_{1/2}','left',14,true],[465.59,65.3,'464.6ev','left',14,true],[463.97,65.3,'464.0ev','left',14,true],[462.87,47,'Ti^{3+}2P_{1/2}','left',14,true],[459.03,111,'458.7ev','right',14,true],[460.5,70.3,'Ti^{4+}2P_{3/2}','left',14,true],[458.02,77,'458.4ev','left',14,true],[457.5,56.3,'Ti^{3+}2P_{3/2}','left',14,true]],
  arrows:[[[465.57,40.3],[465.93,47],ARW.grn],[[464.6,43.7],[464.86,55.3],ARW.grn],[[463.92,43.7],[463.6,58.7],ARW.blu],[[462.72,28.7],[462.46,36.3],ARW.blu],[[458.86,93.7],[459.22,102],ARW.mag],[[459.48,50.3],[459.85,57],ARW.mag],[[458.28,57],[457.81,72],ARW.vio2],[[457.92,33.7],[457.6,44.3],ARW.vio2]],
  pticks:[[464.6,48.7,33.7],[464.0,47,33.7],[458.7,103.7,85.3],[458.4,60.3,45.3]]},
 {ax:'d', left:524, top:677, width:476, height:126, bottom:true, bgLine:'#5533cc', bg:d3_bg, raw:d3_raw, fit:d3_fit,
  comps:[[d3_ti4_12,C.greenF,C.greenL],[d3_ti3_12,C.dblueF,C.blueL],[d3_ti4_32,C.pinkF,C.pinkL],[d3_ti3_32,C.purpF,C.purpL]], sats:[],
  texts:[[467.26,56.3,'Ti^{4+}2P_{1/2}','left',14,true],[465.95,74.7,'464.9ev','left',14,true],[464.28,74.7,'464.0ev','left',14,true],[463.03,59.7,'Ti^{3+}2P_{1/2}','left',14,true],[459.39,103,'459.1ev','right',14,true],[461.22,77,'Ti^{4+}2P_{3/2}','left',14,true],[458.23,98,'458.6ev','left',14,true],[457.5,67,'Ti^{3+}2P_{3/2}','left',14,true]],
  arrows:[[[465.42,44.7],[466.15,44.7],ARW.grn],[[465.01,51.3],[465.27,66.3],ARW.grn],[[463.94,48],[463.71,63.7],ARW.blu],[[463.24,36.3],[462.93,48],ARW.blu],[[459.17,79.7],[459.7,94.7],ARW.mag],[[459.9,48],[460.37,61.3],ARW.mag],[[458.54,69.7],[457.92,91.3],ARW.vio2],[[457.97,44.7],[457.39,56.3],ARW.vio2]],
  pticks:[[464.95,53,38],[464.0,48,34.7],[459.1,85.7,68],[458.6,79.7,63]]}
];

// ===================== HELPERS =====================
function rt(s) {
  let out = '', buf = '', i = 0;
  const flush = () => { if (buf) { out += '{n|' + buf + '}'; buf = ''; } };
  while (i < s.length) {
    const ch = s[i];
    if ((ch === '^' || ch === '_') && s[i+1] === '{') {
      flush();
      const j = s.indexOf('}', i);
      out += '{' + (ch === '^' ? 'sp' : 'sb') + '|' + s.slice(i+2, j) + '}';
      i = j + 1;
    } else { buf += ch; i++; }
  }
  flush();
  return out;
}
function RS(size, bold) {
  const w = bold ? 'bold' : 'normal';
  const L = Math.round(size * 1.5), s = Math.round(size * 0.62);
  return {
    n:{fontFamily:FONT, fontSize:size, fontWeight:w, color:'#000', lineHeight:L},
    sp:{fontFamily:FONT, fontSize:s, fontWeight:w, color:'#000', lineHeight:s+2, verticalAlign:'top'},
    sb:{fontFamily:FONT, fontSize:s, fontWeight:w, color:'#000', lineHeight:s+2, verticalAlign:'bottom'}
  };
}

// ===================== OPTION =====================
const grids = [], xAxes = [], yAxes = [], series = [];
SUB.forEach((s, i) => {
  const A = AXES[s.ax];
  grids.push({left:s.left, top:s.top, width:s.width, height:s.height, show:true, borderColor:'#000', borderWidth:1.3, z:5, backgroundColor:'transparent'});
  xAxes.push({type:'value', gridIndex:i, min:A.min, max:A.max, inverse:true, position:'bottom',
    splitLine:{show:false}, axisLine:{show:false},
    axisTick:{show:s.bottom, customValues:A.major, length:5, lineStyle:{color:'#000', width:1.2}},
    axisLabel:{show:s.bottom, customValues:A.major, margin:12, fontFamily:FONT, fontSize:15, fontWeight:'bold', color:'#000'}});
  yAxes.push({type:'value', gridIndex:i, min:0, max:s.height, show:false});
});
// minor tick axes for the bottom panels
SUB.forEach((s, i) => {
  if (!s.bottom) return;
  const A = AXES[s.ax];
  xAxes.push({type:'value', gridIndex:i, min:A.min, max:A.max, inverse:true, position:'bottom',
    splitLine:{show:false}, axisLine:{show:false},
    axisTick:{show:true, customValues:A.minor, length:3, lineStyle:{color:'#000', width:1.2}},
    axisLabel:{show:false, customValues:A.minor}});
});

SUB.forEach((s, i) => {
  const base = {xAxisIndex:i, yAxisIndex:i, silent:true, animation:false};
  s.comps.forEach(c => series.push(Object.assign({type:'line', data:c[0], smooth:0.35, symbol:'none',
    lineStyle:{color:c[2], width:1}, areaStyle:{color:c[1], opacity:1, origin:'start'}, z:2}, base)));
  series.push(Object.assign({type:'line', data:s.bg, smooth:0.3, symbol:'none',
    lineStyle:{color:s.bgLine, width:1.5}, areaStyle:{color:'#ffffff', opacity:1, origin:'start'}, z:2}, base));
  s.sats.forEach(d => series.push(Object.assign({type:'line', data:d, smooth:0.35, symbol:'none',
    lineStyle:{color:C.sat, width:1.2}, z:3}, base)));
  series.push(Object.assign({type:'line', data:s.raw, smooth:false, symbol:'none',
    lineStyle:{color:'#000', width:1}, z:3}, base));
  series.push(Object.assign({type:'line', data:s.fit, smooth:0.35, symbol:'none',
    lineStyle:{color:RED, width:1.5}, z:4}, base));
  series.push(Object.assign({type:'lines', coordinateSystem:'cartesian2d', polyline:false, symbol:['none','none'],
    lineStyle:{color:'#555', width:1, opacity:1, curveness:0},
    data:s.pticks.map(t => ({coords:[[t[0],t[1]],[t[0],t[2]]]})), z:6}, base));
  series.push(Object.assign({type:'lines', coordinateSystem:'cartesian2d', polyline:false, symbol:['none','arrow'], symbolSize:7,
    lineStyle:{width:1, opacity:1, curveness:0},
    data:s.arrows.map(a => ({coords:[a[0],a[1]], lineStyle:{color:a[2], width:1, opacity:1}})), z:6}, base));
  series.push(Object.assign({type:'scatter', symbol:'circle', symbolSize:1, itemStyle:{color:'rgba(0,0,0,0)'}, clip:false,
    data:s.texts.map(t => {
      const str = rt(t[2]);
      return {value:[t[0],t[1]], label:{show:true, position:'inside', align:t[3], verticalAlign:'middle',
        formatter:() => str, rich:RS(t[4], t[5])}};
    }), z:7}, base));
});

// layout text (panel letters, sample names, axis titles)
const gtext = (x, y, text, size, bold, align, rot) => ({type:'text', x, y, rotation:rot||0, z:100,
  style:{text:rt(text), rich:RS(size, bold), align:align||'left', textAlign:align||'left', verticalAlign:'middle', textVerticalAlign:'middle'}});
const graphics = [
  gtext(18,22,'a',20,true,'center'), gtext(511,26,'b',20,true,'center'),
  gtext(24,433,'c',20,true,'center'), gtext(514,433,'d',20,true,'center'),
  gtext(43,25,'IM-Ni/TiO_{2}',15,false), gtext(43,204,'IM-NiCu/TiO_{2}',15,false),
  gtext(537,25,'IM-Cu/TiO_{2}',15,false), gtext(533,204,'IM-NiCu/TiO_{2}',15,false),
  gtext(46,440,'IM-Cu/TiO_{2}',15,false), gtext(46,567,'IM-Ni/TiO_{2}',15,false), gtext(46,702,'IM-NiCu/TiO_{2}',15,false),
  gtext(537,435,'IM-Cu/TiO_{2}',16,false), gtext(538,567,'IM-Ni/TiO_{2}',16,false), gtext(538,702,'IM-NiCu/TiO_{2}',16,false),
  gtext(259,402,'Binding energy (ev)',18,true,'center'), gtext(773,402,'Binding energy (ev)',18,true,'center'),
  gtext(242,847,'Binding energy (ev)',18,true,'center'), gtext(768,845,'Binding energy (ev)',16,true,'center'),
  gtext(17,186,'Instenity (a.u.)',18,true,'center',Math.PI/2), gtext(510,186,'Instenity (a.u.)',18,true,'center',Math.PI/2),
  gtext(22,610,'Instenity (a.u.)',18,true,'center',Math.PI/2), gtext(511,612,'Instenity (a.u.)',18,true,'center',Math.PI/2)
];

const chart = echarts.init(document.getElementById('c'), null, {renderer:'canvas'});
chart.setOption({animation:false, backgroundColor:'#ffffff', grid:grids, xAxis:xAxes, yAxis:yAxes, series, graphic:{elements:graphics}});
</script></body></html>
